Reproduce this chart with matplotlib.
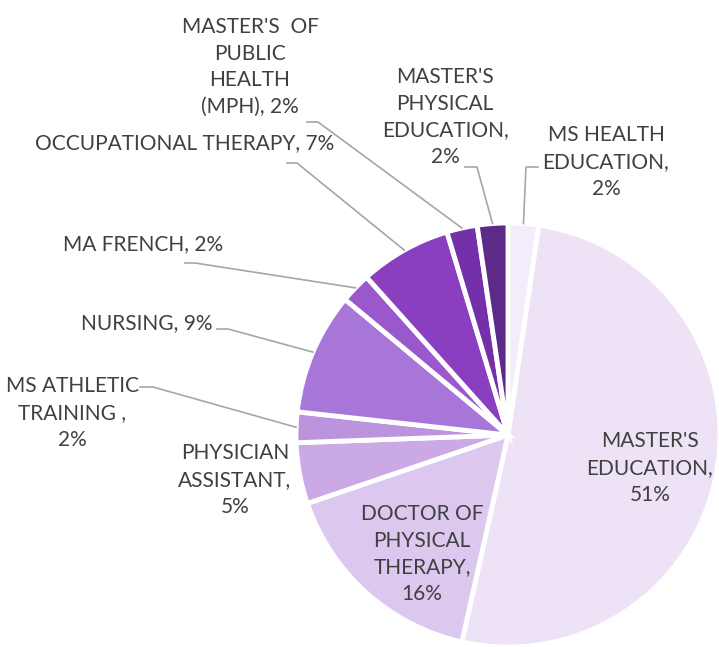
import numpy as np
import matplotlib
matplotlib.use("Agg")
import matplotlib.pyplot as plt

# программы (по часовой стрелке от верха)
programs = ["MS HEALTH\nEDUCATION", "MASTER'S\nEDUCATION", "DOCTOR OF\nPHYSICAL\nTHERAPY",
            "PHYSICIAN\nASSISTANT", "MS ATHLETIC\nTRAINING ", "NURSING", "MA FRENCH",
            "OCCUPATIONAL THERAPY", "MASTER'S  OF\nPUBLIC\nHEALTH\n(MPH)", "MASTER'S\nPHYSICAL\nEDUCATION"]
counts = [1, 22, 7, 2, 1, 4, 1, 3, 1, 1]
sep = ["\n", "\n", "\n", "\n", "\n", " ", " ", " ", " ", "\n"]  # перенос перед процентом

colors = ["#F3ECFA", "#EEE3F6", "#DCC8EE", "#CBA9E5", "#BC94DE", "#A876D8",
          "#9A58CC", "#8A3FC1", "#7430A8", "#5E2A88"]

W, H = 719, 647
cx, cy, R = 508, H - 435, 212

# позиции подписей (пиксели, y сверху) и выноски
label_pos = [(606, 162), (650, 468), (422, 554), (235, 480), (72, 413),
             (147, 323), (143, 244), (185, 143), (250, 67), (445, 117)]
leaders = {0: ((538, 167), (526, 167)), 3: None, 4: ((140, 387), (153, 387)),
           5: ((217, 329), (228, 329)), 6: ((185, 263), (195, 263)),
           7: ((287, 163), (297, 163)), 8: ((307, 122), (318, 122)),
           9: ((465, 167), (477, 167))}

fig = plt.figure(figsize=(W / 100, H / 100), dpi=100)
ax = fig.add_axes([0, 0, 1, 1])
ax.set_xlim(0, W)
ax.set_ylim(0, H)
ax.set_aspect("equal")
ax.axis("off")

ax.pie(counts, colors=colors, startangle=90, counterclock=False,
       center=(cx, cy), radius=R, frame=True,
       wedgeprops=dict(edgecolor="white", linewidth=3.5))
ax.set_xlim(0, W)
ax.set_ylim(0, H)
ax.axis("off")

total = sum(counts)
fr = np.array(counts) / total
cum = np.cumsum(fr) - fr / 2
for i, name in enumerate(programs):
    pct = "%d%%" % round(100 * counts[i] / total)
    x, y = label_pos[i]
    ax.text(x, H - y, name + "," + sep[i] + pct, ha="center", va="center",
            fontsize=15, color="#404040", family="Lato", linespacing=1.42)
    lp = leaders.get(i)
    if lp:
        th = np.deg2rad(90 - 360 * cum[i])
        ex, ey = cx + R * np.cos(th), cy + R * np.sin(th)
        ax.plot([lp[0][0], lp[1][0], ex], [H - lp[0][1], H - lp[1][1], ey],
                color="#A6A6A6", linewidth=1.2)

fig.savefig("out.png", dpi=100)
